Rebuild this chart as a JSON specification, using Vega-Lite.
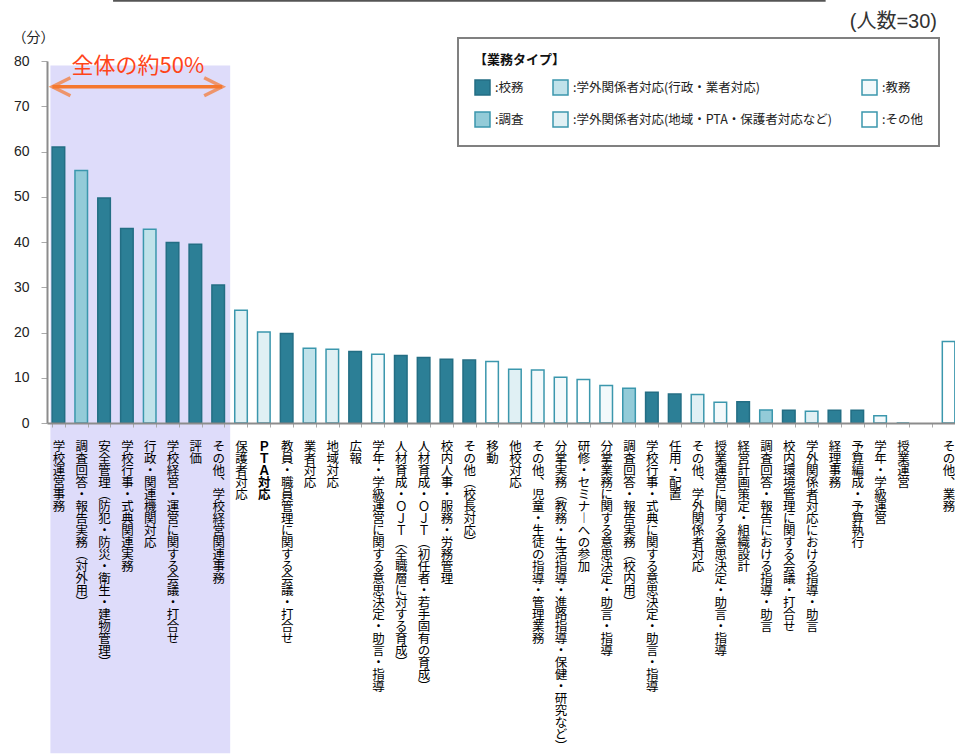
{
  "$schema": "https://vega.github.io/schema/vega-lite/v6.json",
  "autosize": {"type": "none"},
  "padding": {"left": 47, "top": 61, "right": 0, "bottom": 332},
  "width": 913,
  "height": 362,
  "background": "#ffffff",
  "title": {
    "text": "(人数=30)",
    "anchor": "end",
    "frame": "group",
    "orient": "top",
    "baseline": "bottom",
    "font": "Liberation Sans, Noto Sans CJK JP",
    "fontSize": 20,
    "fontWeight": "normal",
    "color": "#333333",
    "offset": 0,
    "dy": 52,
    "dx": -23
  },
  "data": {
    "values": [
      {"item": "学校運営事務", "value": 61.0, "type": "校務"},
      {"item": "調査回答・報告実務（対外用）", "value": 55.8, "type": "調査"},
      {"item": "安全管理（防犯・防災・衛生・建物管理）", "value": 49.7, "type": "校務"},
      {"item": "学校行事・式典関連実務", "value": 43.0, "type": "校務"},
      {"item": "行政・関連機関対応", "value": 42.8, "type": "学外関係者対応(行政・業者対応)"},
      {"item": "学校経営・運営に関する会議・打合せ", "value": 39.9, "type": "校務"},
      {"item": "評価", "value": 39.5, "type": "校務"},
      {"item": "その他、学校経営関連事務", "value": 30.5, "type": "校務"},
      {"item": "保護者対応", "value": 24.9, "type": "学外関係者対応(地域・PTA・保護者対応など)"},
      {"item": "ＰＴＡ対応", "value": 20.1, "type": "学外関係者対応(地域・PTA・保護者対応など)"},
      {"item": "教員・職員管理に関する会議・打合せ", "value": 19.8, "type": "校務"},
      {"item": "業者対応", "value": 16.5, "type": "学外関係者対応(行政・業者対応)"},
      {"item": "地域対応", "value": 16.3, "type": "学外関係者対応(地域・PTA・保護者対応など)"},
      {"item": "広報", "value": 15.8, "type": "校務"},
      {"item": "学年・学級運営に関する意思決定・助言・指導", "value": 15.2, "type": "教務"},
      {"item": "人材育成・ＯＪＴ　（全職層に対する育成）", "value": 14.9, "type": "校務"},
      {"item": "人材育成・ＯＪＴ　（初任者・若手固有の育成）", "value": 14.5, "type": "校務"},
      {"item": "校内人事・服務・労務管理", "value": 14.1, "type": "校務"},
      {"item": "その他（校長対応）", "value": 13.9, "type": "校務"},
      {"item": "移動", "value": 13.6, "type": "その他"},
      {"item": "他校対応", "value": 11.9, "type": "学外関係者対応(地域・PTA・保護者対応など)"},
      {"item": "その他、児童・生徒の指導・管理業務", "value": 11.7, "type": "教務"},
      {"item": "分掌実務（教務・生活指導・進路指導・保健・研究など）", "value": 10.1, "type": "教務"},
      {"item": "研修・セミナーへの参加", "value": 9.6, "type": "その他"},
      {"item": "分掌業務に関する意思決定・助言・指導", "value": 8.3, "type": "教務"},
      {"item": "調査回答・報告実務（校内用）", "value": 7.7, "type": "調査"},
      {"item": "学校行事・式典に関する意思決定・助言・指導", "value": 6.8, "type": "校務"},
      {"item": "任用・配置", "value": 6.4, "type": "校務"},
      {"item": "その他、学外関係者対応", "value": 6.3, "type": "学外関係者対応(地域・PTA・保護者対応など)"},
      {"item": "授業運営に関する意思決定・助言・指導", "value": 4.6, "type": "教務"},
      {"item": "経営計画策定・組織設計", "value": 4.7, "type": "校務"},
      {"item": "調査回答・報告における指導・助言", "value": 2.9, "type": "調査"},
      {"item": "校内環境管理に関する会議・打合せ", "value": 2.8, "type": "校務"},
      {"item": "学外関係者対応における指導・助言", "value": 2.6, "type": "学外関係者対応(地域・PTA・保護者対応など)"},
      {"item": "経理事務", "value": 2.8, "type": "校務"},
      {"item": "予算編成・予算執行", "value": 2.8, "type": "校務"},
      {"item": "学年・学級運営", "value": 1.6, "type": "教務"},
      {"item": "授業運営", "value": 0, "type": "教務"},
      {"item": "その他、業務", "value": 18.0, "type": "その他"}
    ]
  },
  "layer": [
    {
      "data": {"values": [{}]},
      "mark": {"type": "rect", "color": "#dedcfa", "xOffset": -8, "x2Offset": 12},
      "encoding": {
        "x": {"datum": "学校運営事務", "type": "nominal", "title": null},
        "x2": {"datum": "その他、学校経営関連事務"},
        "y": {"datum": 79, "type": "quantitative", "title": null},
        "y2": {"datum": -73}
      }
    },
    {
      "mark": {"type": "bar", "strokeWidth": 1.5},
      "encoding": {
        "x": {
          "field": "item",
          "type": "nominal",
          "title": null,
          "scale": {
            "domain": [
              "学校運営事務", "調査回答・報告実務（対外用）", "安全管理（防犯・防災・衛生・建物管理）",
              "学校行事・式典関連実務", "行政・関連機関対応", "学校経営・運営に関する会議・打合せ",
              "評価", "その他、学校経営関連事務", "保護者対応", "ＰＴＡ対応",
              "教員・職員管理に関する会議・打合せ", "業者対応", "地域対応", "広報",
              "学年・学級運営に関する意思決定・助言・指導", "人材育成・ＯＪＴ　（全職層に対する育成）",
              "人材育成・ＯＪＴ　（初任者・若手固有の育成）", "校内人事・服務・労務管理",
              "その他（校長対応）", "移動", "他校対応", "その他、児童・生徒の指導・管理業務",
              "分掌実務（教務・生活指導・進路指導・保健・研究など）", "研修・セミナーへの参加",
              "分掌業務に関する意思決定・助言・指導", "調査回答・報告実務（校内用）",
              "学校行事・式典に関する意思決定・助言・指導", "任用・配置", "その他、学外関係者対応",
              "授業運営に関する意思決定・助言・指導", "経営計画策定・組織設計",
              "調査回答・報告における指導・助言", "校内環境管理に関する会議・打合せ",
              "学外関係者対応における指導・助言", "経理事務", "予算編成・予算執行",
              "学年・学級運営", "授業運営", " ", "その他、業務"
            ],
            "paddingInner": 0.45,
            "paddingOuter": 0.225
          },
          "axis": {
            "zindex": 1,
            "labelAngle": 0,
            "labelAlign": "center",
            "labelBaseline": "top",
            "labelFont": "Noto Sans CJK JP",
            "labelFontSize": 12.5,
            "labelLineHeight": 12,
            "labelColor": "#000000",
            "labelPadding": 13,
            "labelOverlap": false,
            "labelLimit": 0,
            "labelFontWeight": {"condition": {"test": "datum.label == 'ＰＴＡ対応'", "value": "bold"}, "value": "normal"},
            "labelExpr": "split(replace(replace(replace(replace(datum.label, regexp('（', 'g'), '︵'), regexp('）', 'g'), '︶'), regexp('、', 'g'), '︑'), regexp('ー', 'g'), '︱'), '')",
            "tickBand": "extent",
            "tickSize": 4,
            "tickColor": "#aaaaaa",
            "domainColor": "#8c8c8c",
            "domainWidth": 2
          }
        },
        "y": {
          "field": "value",
          "type": "quantitative",
          "scale": {"domain": [0, 80], "nice": false},
          "axis": {
            "zindex": 1,
            "values": [0, 10, 20, 30, 40, 50, 60, 70, 80],
            "grid": false,
            "labelFont": "Liberation Sans",
            "labelFontSize": 14,
            "labelColor": "#222222",
            "labelPadding": 12,
            "tickSize": 6,
            "tickColor": "#aaaaaa",
            "domainColor": "#8c8c8c",
            "domainWidth": 2,
            "title": "（分）",
            "titleAngle": 0,
            "titleFont": "Noto Sans CJK JP",
            "titleFontSize": 14,
            "titleFontWeight": "normal",
            "titleColor": "#222222",
            "titleAlign": "center",
            "titleBaseline": "middle",
            "titleX": -14,
            "titleY": -24
          }
        },
        "fill": {
          "field": "type",
          "type": "nominal",
          "scale": {
            "domain": ["校務", "学外関係者対応(行政・業者対応)", "教務", "調査", "学外関係者対応(地域・PTA・保護者対応など)", "その他"],
            "range": ["#2c7f96", "#c0e2ea", "#f3f9fb", "#93cbd8", "#e0f0f4", "#ffffff"]
          },
          "legend": {
            "orient": "none",
            "legendX": 411,
            "legendY": -23,
            "direction": "horizontal",
            "columns": 3,
            "title": "【業務タイプ】",
            "labelExpr": "':' + datum.label"
          }
        },
        "stroke": {
          "field": "type",
          "type": "nominal",
          "scale": {
            "domain": ["校務", "学外関係者対応(行政・業者対応)", "教務", "調査", "学外関係者対応(地域・PTA・保護者対応など)", "その他"],
            "range": ["#236e84", "#3b97ad", "#3b97ad", "#3b97ad", "#3b97ad", "#3b97ad"]
          },
          "legend": null
        }
      }
    },
    {
      "data": {"values": [{}]},
      "mark": {"type": "rule", "color": "#f5782f", "strokeWidth": 3.5, "xOffset": -6, "x2Offset": 4},
      "encoding": {
        "x": {"datum": "学校運営事務", "type": "nominal", "title": null},
        "x2": {"datum": "その他、学校経営関連事務"},
        "y": {"datum": 74.3, "type": "quantitative", "title": null}
      }
    },
    {
      "data": {"values": [{}]},
      "mark": {"type": "point", "shape": "M1,-1L-1,0L1,1", "size": 324, "filled": false, "stroke": "#f5782f", "strokeWidth": 3.5, "xOffset": 3},
      "encoding": {
        "x": {"datum": "学校運営事務", "type": "nominal", "title": null},
        "y": {"datum": 74.3, "type": "quantitative", "title": null}
      }
    },
    {
      "data": {"values": [{}]},
      "mark": {"type": "point", "shape": "M-1,-1L1,0L-1,1", "size": 324, "filled": false, "stroke": "#f5782f", "strokeWidth": 3.5, "xOffset": -5},
      "encoding": {
        "x": {"datum": "その他、学校経営関連事務", "type": "nominal", "title": null},
        "y": {"datum": 74.3, "type": "quantitative", "title": null}
      }
    },
    {
      "data": {"values": [{}]},
      "mark": {"type": "text", "text": "全体の約50%", "font": "Noto Sans CJK JP", "fontSize": 22, "color": "#ff4419", "align": "center", "baseline": "middle", "xOffset": 11},
      "encoding": {
        "x": {"datum": "学校行事・式典関連実務", "type": "nominal", "title": null},
        "y": {"datum": 78.9, "type": "quantitative", "title": null}
      }
    },
    {
      "data": {"values": [{}]},
      "mark": {"type": "rule", "color": "#555555", "strokeWidth": 2, "xOffset": 9, "x2Offset": 14, "clip": false},
      "encoding": {
        "x": {"datum": "安全管理（防犯・防災・衛生・建物管理）", "type": "nominal", "title": null},
        "x2": {"datum": "学外関係者対応における指導・助言"},
        "y": {"datum": 93.3, "type": "quantitative", "title": null}
      }
    }
  ],
  "config": {
    "view": {"stroke": null},
    "legend": {
      "titleFont": "Noto Sans CJK JP",
      "titleFontSize": 13,
      "titleFontWeight": "bold",
      "titleColor": "#111111",
      "titlePadding": 12,
      "labelFont": "Noto Sans CJK JP",
      "labelFontSize": 12.5,
      "labelColor": "#222222",
      "labelLimit": 400,
      "labelOffset": 4,
      "symbolType": "square",
      "symbolSize": 225,
      "symbolStrokeColor": "#3b97ad",
      "symbolStrokeWidth": 1.5,
      "rowPadding": 11,
      "columnPadding": 26,
      "padding": 16,
      "strokeColor": "#808080",
      "strokeWidth": 2,
      "fillColor": "#ffffff"
    }
  }
}
